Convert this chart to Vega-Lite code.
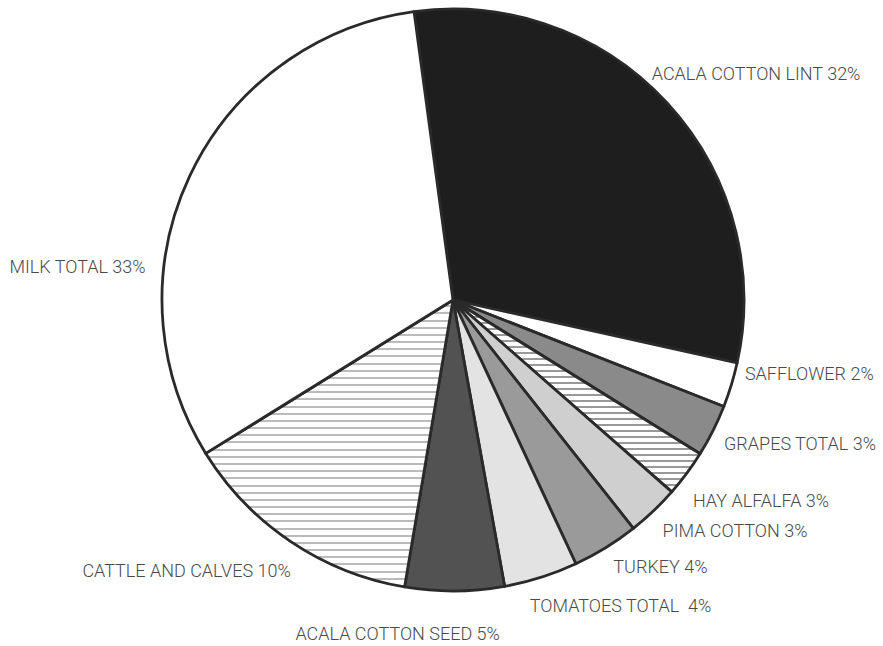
{
"$schema": "https://vega.github.io/schema/vega-lite/v6.json",
"width": 862, "height": 600, "autosize": "none",
"padding": {"left": 22, "top": 0, "right": 0, "bottom": 46},
"background": "white",
"config": {"view": {"stroke": null}},
"data": {"values": [
{"order": 1, "name": "ACALA COTTON LINT", "label": "ACALA COTTON LINT 32%", "value": 30.6},
{"order": 2, "name": "SAFFLOWER", "label": "SAFFLOWER 2%", "value": 2.5},
{"order": 3, "name": "GRAPES TOTAL", "label": "GRAPES TOTAL 3%", "value": 2.9},
{"order": 4, "name": "HAY ALFALFA", "label": "HAY ALFALFA 3%", "value": 2.6},
{"order": 5, "name": "PIMA COTTON", "label": "PIMA COTTON 3%", "value": 2.9},
{"order": 6, "name": "TURKEY", "label": "TURKEY 4%", "value": 3.7},
{"order": 7, "name": "TOMATOES TOTAL", "label": "TOMATOES TOTAL\u00a0 4%", "value": 4.1},
{"order": 8, "name": "ACALA COTTON SEED", "label": "ACALA COTTON SEED 5%", "value": 5.5},
{"order": 9, "name": "CATTLE AND CALVES", "label": "CATTLE AND CALVES 10%", "value": 13.5},
{"order": 10, "name": "MILK TOTAL", "label": "MILK TOTAL 33%", "value": 31.7}
]},
"encoding": {
"theta": {"field": "value", "type": "quantitative", "stack": true, "scale": {"range": [-0.13439, 6.14880]}},
"order": {"field": "order", "type": "quantitative"}
},
"layer": [
{"mark": {"type": "arc", "outerRadius": 291, "stroke": "#2a2a2a", "strokeWidth": 2.8, "strokeJoin": "round"},
"encoding": {
"fill": {
"condition": [
{"test": "datum.name === 'HAY ALFALFA'", "value": {"gradient": "linear", "x1": 0, "y1": 0, "x2": 0, "y2": 1, "stops": [
{"offset":0,"color":"#fff"},{"offset":0.02,"color":"#fff"},{"offset":0.02,"color":"#999"},{"offset":0.03125,"color":"#999"},
{"offset":0.03125,"color":"#fff"},{"offset":0.05125,"color":"#fff"},{"offset":0.05125,"color":"#999"},{"offset":0.0625,"color":"#999"},
{"offset":0.0625,"color":"#fff"},{"offset":0.0825,"color":"#fff"},{"offset":0.0825,"color":"#999"},{"offset":0.09375,"color":"#999"},
{"offset":0.09375,"color":"#fff"},{"offset":0.11375,"color":"#fff"},{"offset":0.11375,"color":"#999"},{"offset":0.125,"color":"#999"},
{"offset":0.125,"color":"#fff"},{"offset":0.145,"color":"#fff"},{"offset":0.145,"color":"#999"},{"offset":0.15625,"color":"#999"},
{"offset":0.15625,"color":"#fff"},{"offset":0.17625,"color":"#fff"},{"offset":0.17625,"color":"#999"},{"offset":0.1875,"color":"#999"},
{"offset":0.1875,"color":"#fff"},{"offset":0.2075,"color":"#fff"},{"offset":0.2075,"color":"#999"},{"offset":0.21875,"color":"#999"},
{"offset":0.21875,"color":"#fff"},{"offset":0.23875,"color":"#fff"},{"offset":0.23875,"color":"#999"},{"offset":0.25,"color":"#999"},
{"offset":0.25,"color":"#fff"},{"offset":0.27,"color":"#fff"},{"offset":0.27,"color":"#999"},{"offset":0.28125,"color":"#999"},
{"offset":0.28125,"color":"#fff"},{"offset":0.30125,"color":"#fff"},{"offset":0.30125,"color":"#999"},{"offset":0.3125,"color":"#999"},
{"offset":0.3125,"color":"#fff"},{"offset":0.3325,"color":"#fff"},{"offset":0.3325,"color":"#999"},{"offset":0.34375,"color":"#999"},
{"offset":0.34375,"color":"#fff"},{"offset":0.36375,"color":"#fff"},{"offset":0.36375,"color":"#999"},{"offset":0.375,"color":"#999"},
{"offset":0.375,"color":"#fff"},{"offset":0.395,"color":"#fff"},{"offset":0.395,"color":"#999"},{"offset":0.40625,"color":"#999"},
{"offset":0.40625,"color":"#fff"},{"offset":0.42625,"color":"#fff"},{"offset":0.42625,"color":"#999"},{"offset":0.4375,"color":"#999"},
{"offset":0.4375,"color":"#fff"},{"offset":0.4575,"color":"#fff"},{"offset":0.4575,"color":"#999"},{"offset":0.46875,"color":"#999"},
{"offset":0.46875,"color":"#fff"},{"offset":0.48875,"color":"#fff"},{"offset":0.48875,"color":"#999"},{"offset":0.5,"color":"#999"},
{"offset":0.5,"color":"#fff"},{"offset":0.52,"color":"#fff"},{"offset":0.52,"color":"#999"},{"offset":0.53125,"color":"#999"},
{"offset":0.53125,"color":"#fff"},{"offset":0.55125,"color":"#fff"},{"offset":0.55125,"color":"#999"},{"offset":0.5625,"color":"#999"},
{"offset":0.5625,"color":"#fff"},{"offset":0.5825,"color":"#fff"},{"offset":0.5825,"color":"#999"},{"offset":0.59375,"color":"#999"},
{"offset":0.59375,"color":"#fff"},{"offset":0.61375,"color":"#fff"},{"offset":0.61375,"color":"#999"},{"offset":0.625,"color":"#999"},
{"offset":0.625,"color":"#fff"},{"offset":0.645,"color":"#fff"},{"offset":0.645,"color":"#999"},{"offset":0.65625,"color":"#999"},
{"offset":0.65625,"color":"#fff"},{"offset":0.67625,"color":"#fff"},{"offset":0.67625,"color":"#999"},{"offset":0.6875,"color":"#999"},
{"offset":0.6875,"color":"#fff"},{"offset":0.7075,"color":"#fff"},{"offset":0.7075,"color":"#999"},{"offset":0.71875,"color":"#999"},
{"offset":0.71875,"color":"#fff"},{"offset":0.73875,"color":"#fff"},{"offset":0.73875,"color":"#999"},{"offset":0.75,"color":"#999"},
{"offset":0.75,"color":"#fff"},{"offset":0.77,"color":"#fff"},{"offset":0.77,"color":"#999"},{"offset":0.78125,"color":"#999"},
{"offset":0.78125,"color":"#fff"},{"offset":0.80125,"color":"#fff"},{"offset":0.80125,"color":"#999"},{"offset":0.8125,"color":"#999"},
{"offset":0.8125,"color":"#fff"},{"offset":0.8325,"color":"#fff"},{"offset":0.8325,"color":"#999"},{"offset":0.84375,"color":"#999"},
{"offset":0.84375,"color":"#fff"},{"offset":0.86375,"color":"#fff"},{"offset":0.86375,"color":"#999"},{"offset":0.875,"color":"#999"},
{"offset":0.875,"color":"#fff"},{"offset":0.895,"color":"#fff"},{"offset":0.895,"color":"#999"},{"offset":0.90625,"color":"#999"},
{"offset":0.90625,"color":"#fff"},{"offset":0.92625,"color":"#fff"},{"offset":0.92625,"color":"#999"},{"offset":0.9375,"color":"#999"},
{"offset":0.9375,"color":"#fff"},{"offset":0.9575,"color":"#fff"},{"offset":0.9575,"color":"#999"},{"offset":0.96875,"color":"#999"},
{"offset":0.96875,"color":"#fff"},{"offset":0.98875,"color":"#fff"},{"offset":0.98875,"color":"#999"},{"offset":1,"color":"#999"}
]}},
{"test": "datum.name === 'CATTLE AND CALVES'", "value": {"gradient": "linear", "x1": 0, "y1": 0, "x2": 0, "y2": 1, "stops": [
{"offset":0,"color":"#fff"},{"offset":0.018,"color":"#fff"},{"offset":0.018,"color":"#bbb"},{"offset":0.025,"color":"#bbb"},
{"offset":0.025,"color":"#fff"},{"offset":0.043,"color":"#fff"},{"offset":0.043,"color":"#bbb"},{"offset":0.05,"color":"#bbb"},
{"offset":0.05,"color":"#fff"},{"offset":0.068,"color":"#fff"},{"offset":0.068,"color":"#bbb"},{"offset":0.075,"color":"#bbb"},
{"offset":0.075,"color":"#fff"},{"offset":0.093,"color":"#fff"},{"offset":0.093,"color":"#bbb"},{"offset":0.1,"color":"#bbb"},
{"offset":0.1,"color":"#fff"},{"offset":0.118,"color":"#fff"},{"offset":0.118,"color":"#bbb"},{"offset":0.125,"color":"#bbb"},
{"offset":0.125,"color":"#fff"},{"offset":0.143,"color":"#fff"},{"offset":0.143,"color":"#bbb"},{"offset":0.15,"color":"#bbb"},
{"offset":0.15,"color":"#fff"},{"offset":0.168,"color":"#fff"},{"offset":0.168,"color":"#bbb"},{"offset":0.175,"color":"#bbb"},
{"offset":0.175,"color":"#fff"},{"offset":0.193,"color":"#fff"},{"offset":0.193,"color":"#bbb"},{"offset":0.2,"color":"#bbb"},
{"offset":0.2,"color":"#fff"},{"offset":0.218,"color":"#fff"},{"offset":0.218,"color":"#bbb"},{"offset":0.225,"color":"#bbb"},
{"offset":0.225,"color":"#fff"},{"offset":0.243,"color":"#fff"},{"offset":0.243,"color":"#bbb"},{"offset":0.25,"color":"#bbb"},
{"offset":0.25,"color":"#fff"},{"offset":0.268,"color":"#fff"},{"offset":0.268,"color":"#bbb"},{"offset":0.275,"color":"#bbb"},
{"offset":0.275,"color":"#fff"},{"offset":0.293,"color":"#fff"},{"offset":0.293,"color":"#bbb"},{"offset":0.3,"color":"#bbb"},
{"offset":0.3,"color":"#fff"},{"offset":0.318,"color":"#fff"},{"offset":0.318,"color":"#bbb"},{"offset":0.325,"color":"#bbb"},
{"offset":0.325,"color":"#fff"},{"offset":0.343,"color":"#fff"},{"offset":0.343,"color":"#bbb"},{"offset":0.35,"color":"#bbb"},
{"offset":0.35,"color":"#fff"},{"offset":0.368,"color":"#fff"},{"offset":0.368,"color":"#bbb"},{"offset":0.375,"color":"#bbb"},
{"offset":0.375,"color":"#fff"},{"offset":0.393,"color":"#fff"},{"offset":0.393,"color":"#bbb"},{"offset":0.4,"color":"#bbb"},
{"offset":0.4,"color":"#fff"},{"offset":0.418,"color":"#fff"},{"offset":0.418,"color":"#bbb"},{"offset":0.425,"color":"#bbb"},
{"offset":0.425,"color":"#fff"},{"offset":0.443,"color":"#fff"},{"offset":0.443,"color":"#bbb"},{"offset":0.45,"color":"#bbb"},
{"offset":0.45,"color":"#fff"},{"offset":0.468,"color":"#fff"},{"offset":0.468,"color":"#bbb"},{"offset":0.475,"color":"#bbb"},
{"offset":0.475,"color":"#fff"},{"offset":0.493,"color":"#fff"},{"offset":0.493,"color":"#bbb"},{"offset":0.5,"color":"#bbb"},
{"offset":0.5,"color":"#fff"},{"offset":0.518,"color":"#fff"},{"offset":0.518,"color":"#bbb"},{"offset":0.525,"color":"#bbb"},
{"offset":0.525,"color":"#fff"},{"offset":0.543,"color":"#fff"},{"offset":0.543,"color":"#bbb"},{"offset":0.55,"color":"#bbb"},
{"offset":0.55,"color":"#fff"},{"offset":0.568,"color":"#fff"},{"offset":0.568,"color":"#bbb"},{"offset":0.575,"color":"#bbb"},
{"offset":0.575,"color":"#fff"},{"offset":0.593,"color":"#fff"},{"offset":0.593,"color":"#bbb"},{"offset":0.6,"color":"#bbb"},
{"offset":0.6,"color":"#fff"},{"offset":0.618,"color":"#fff"},{"offset":0.618,"color":"#bbb"},{"offset":0.625,"color":"#bbb"},
{"offset":0.625,"color":"#fff"},{"offset":0.643,"color":"#fff"},{"offset":0.643,"color":"#bbb"},{"offset":0.65,"color":"#bbb"},
{"offset":0.65,"color":"#fff"},{"offset":0.668,"color":"#fff"},{"offset":0.668,"color":"#bbb"},{"offset":0.675,"color":"#bbb"},
{"offset":0.675,"color":"#fff"},{"offset":0.693,"color":"#fff"},{"offset":0.693,"color":"#bbb"},{"offset":0.7,"color":"#bbb"},
{"offset":0.7,"color":"#fff"},{"offset":0.718,"color":"#fff"},{"offset":0.718,"color":"#bbb"},{"offset":0.725,"color":"#bbb"},
{"offset":0.725,"color":"#fff"},{"offset":0.743,"color":"#fff"},{"offset":0.743,"color":"#bbb"},{"offset":0.75,"color":"#bbb"},
{"offset":0.75,"color":"#fff"},{"offset":0.768,"color":"#fff"},{"offset":0.768,"color":"#bbb"},{"offset":0.775,"color":"#bbb"},
{"offset":0.775,"color":"#fff"},{"offset":0.793,"color":"#fff"},{"offset":0.793,"color":"#bbb"},{"offset":0.8,"color":"#bbb"},
{"offset":0.8,"color":"#fff"},{"offset":0.818,"color":"#fff"},{"offset":0.818,"color":"#bbb"},{"offset":0.825,"color":"#bbb"},
{"offset":0.825,"color":"#fff"},{"offset":0.843,"color":"#fff"},{"offset":0.843,"color":"#bbb"},{"offset":0.85,"color":"#bbb"},
{"offset":0.85,"color":"#fff"},{"offset":0.868,"color":"#fff"},{"offset":0.868,"color":"#bbb"},{"offset":0.875,"color":"#bbb"},
{"offset":0.875,"color":"#fff"},{"offset":0.893,"color":"#fff"},{"offset":0.893,"color":"#bbb"},{"offset":0.9,"color":"#bbb"},
{"offset":0.9,"color":"#fff"},{"offset":0.918,"color":"#fff"},{"offset":0.918,"color":"#bbb"},{"offset":0.925,"color":"#bbb"},
{"offset":0.925,"color":"#fff"},{"offset":0.943,"color":"#fff"},{"offset":0.943,"color":"#bbb"},{"offset":0.95,"color":"#bbb"},
{"offset":0.95,"color":"#fff"},{"offset":0.968,"color":"#fff"},{"offset":0.968,"color":"#bbb"},{"offset":0.975,"color":"#bbb"},
{"offset":0.975,"color":"#fff"},{"offset":0.993,"color":"#fff"},{"offset":0.993,"color":"#bbb"},{"offset":1,"color":"#bbb"}
]}}
],
"field": "name", "type": "nominal", "legend": null,
"scale": {"domain": ["ACALA COTTON LINT","SAFFLOWER","GRAPES TOTAL","HAY ALFALFA","PIMA COTTON","TURKEY","TOMATOES TOTAL","ACALA COTTON SEED","CATTLE AND CALVES","MILK TOTAL"],
"range": ["#1e1e1e","#ffffff","#8a8a8a","#ffffff","#cfcfcf","#9a9a9a","#e3e3e3","#525252","#ffffff","#ffffff"]}
}
}},
{"mark": {"type": "text", "radius": 300, "align": "left", "baseline": "middle", "dx": -22, "dy": -22, "font": "Roboto", "fontSize": 18, "fontWeight": 300, "fill": "#4a4a4a"},
"encoding": {"text": {"condition": {"test": "datum.name === 'ACALA COTTON LINT'", "field": "label"}, "value": ""}}},
{"mark": {"type": "text", "radius": 300, "align": "left", "baseline": "middle", "dx": 5, "dy": -13, "font": "Roboto", "fontSize": 18, "fontWeight": 300, "fill": "#4a4a4a"},
"encoding": {"text": {"condition": {"test": "datum.name === 'SAFFLOWER'", "field": "label"}, "value": ""}}},
{"mark": {"type": "text", "radius": 300, "align": "left", "baseline": "middle", "dx": 3, "dy": 10, "font": "Roboto", "fontSize": 18, "fontWeight": 300, "fill": "#4a4a4a"},
"encoding": {"text": {"condition": {"test": "datum.name === 'GRAPES TOTAL'", "field": "label"}, "value": ""}}},
{"mark": {"type": "text", "radius": 300, "align": "left", "baseline": "middle", "dx": -1, "dy": 23, "font": "Roboto", "fontSize": 18, "fontWeight": 300, "fill": "#4a4a4a"},
"encoding": {"text": {"condition": {"test": "datum.name === 'HAY ALFALFA'", "field": "label"}, "value": ""}}},
{"mark": {"type": "text", "radius": 300, "align": "left", "baseline": "middle", "dx": 3, "dy": 14, "font": "Roboto", "fontSize": 18, "fontWeight": 300, "fill": "#4a4a4a"},
"encoding": {"text": {"condition": {"test": "datum.name === 'PIMA COTTON'", "field": "label"}, "value": ""}}},
{"mark": {"type": "text", "radius": 300, "align": "left", "baseline": "middle", "dx": 3, "dy": 13, "font": "Roboto", "fontSize": 18, "fontWeight": 300, "fill": "#4a4a4a"},
"encoding": {"text": {"condition": {"test": "datum.name === 'TURKEY'", "field": "label"}, "value": ""}}},
{"mark": {"type": "text", "radius": 300, "align": "left", "baseline": "middle", "dx": -14, "dy": 21, "font": "Roboto", "fontSize": 18, "fontWeight": 300, "fill": "#4a4a4a"},
"encoding": {"text": {"condition": {"test": "datum.name === 'TOMATOES TOTAL'", "field": "label"}, "value": ""}}},
{"mark": {"type": "text", "radius": 300, "align": "center", "baseline": "middle", "dx": -57, "dy": 35, "font": "Roboto", "fontSize": 18, "fontWeight": 300, "fill": "#4a4a4a"},
"encoding": {"text": {"condition": {"test": "datum.name === 'ACALA COTTON SEED'", "field": "label"}, "value": ""}}},
{"mark": {"type": "text", "radius": 300, "align": "right", "baseline": "middle", "dx": 5, "dy": 23, "font": "Roboto", "fontSize": 18, "fontWeight": 300, "fill": "#4a4a4a"},
"encoding": {"text": {"condition": {"test": "datum.name === 'CATTLE AND CALVES'", "field": "label"}, "value": ""}}},
{"mark": {"type": "text", "radius": 300, "align": "right", "baseline": "middle", "dx": -36, "dy": 96, "font": "Roboto", "fontSize": 18, "fontWeight": 300, "fill": "#4a4a4a"},
"encoding": {"text": {"condition": {"test": "datum.name === 'MILK TOTAL'", "field": "label"}, "value": ""}}}
]
}
